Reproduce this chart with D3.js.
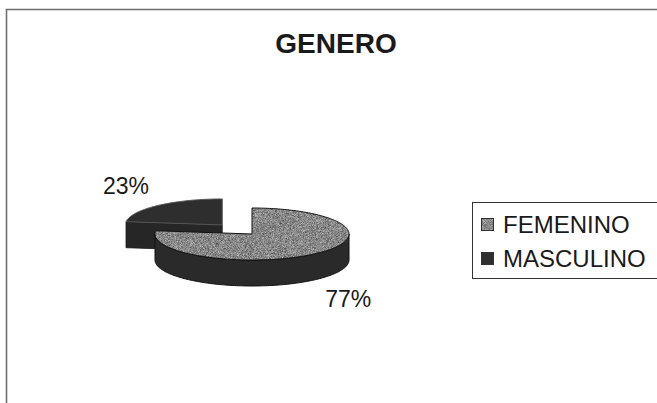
<!DOCTYPE html>
<html>
<head>
<meta charset="utf-8">
<script src="https://cdn.jsdelivr.net/npm/d3@7/dist/d3.min.js"></script>
<style>
  html, body { margin: 0; padding: 0; background: #fff; }
  svg { display: block; font-family: "Liberation Sans", Arial, sans-serif; }
</style>
</head>
<body>
<svg id="chart" width="657" height="403"></svg>
<script>
// Data
const title = "GENERO";
const categories = ["FEMENINO", "MASCULINO"];
const values = [77, 23];
const labels = ["77%", "23%"];
const exploded = [0, 45];          // pull-out distance per slice
const topColors = ["#858585", "#2e2e2e"];
const sideColors = ["#2a2a2a", "#262626"];

const W = 657, H = 403;
const svg = d3.select("#chart");

// Fine grain texture for the light slice
const defs = svg.append("defs");
const f = defs.append("filter").attr("id", "grain")
  .attr("x", 0).attr("y", 0).attr("width", 1).attr("height", 1)
  .attr("color-interpolation-filters", "sRGB");
f.append("feTurbulence").attr("type", "fractalNoise")
  .attr("baseFrequency", 1.4).attr("numOctaves", 2).attr("seed", 4).attr("result", "n");
f.append("feColorMatrix").attr("in", "n").attr("type", "matrix")
  .attr("values", "0.7 0 0 0 0.18  0.7 0 0 0 0.18  0.7 0 0 0 0.18  0 0 0 0 1").attr("result", "g");
f.append("feComposite").attr("in", "g").attr("in2", "SourceGraphic").attr("operator", "in");

// Chart area frame
svg.append("path")
  .attr("d", `M6.5,${H + 2} V9.5 H${W + 2}`)
  .attr("fill", "none").attr("stroke", "#6e6e6e").attr("stroke-width", 1.6);

// Title
svg.append("text")
  .attr("x", 336).attr("y", 53)
  .attr("text-anchor", "middle")
  .attr("font-size", 28).attr("font-weight", "bold").attr("fill", "#1a1a1a")
  .text(title);

// 3D pie geometry
const cx = 252, cy = 234, rx = 97, ry = 26, depth = 26;
const pie = d3.pie().sort(null).startAngle(0).endAngle(2 * Math.PI);
const arcs = pie(values);

// Projection of (angle, radius factor) onto the tilted ellipse
const px = d3.scaleLinear().domain([-1, 1]).range([-rx, rx]);
const py = d3.scaleLinear().domain([-1, 1]).range([ry, -ry]);
function offset(a, i) {
  const mid = (a.startAngle + a.endAngle) / 2, d = exploded[i] / rx;
  return [cx + px(Math.sin(mid) * d), cy + py(Math.cos(mid) * d)];
}
function pt(c, t, k = 1, dz = 0) {
  return [c[0] + px(Math.sin(t) * k), c[1] + py(Math.cos(t) * k) + dz];
}
function samples(a0, a1) {
  const n = Math.max(2, Math.ceil(Math.abs(a1 - a0) / 0.02));
  return d3.range(n + 1).map(j => a0 + (a1 - a0) * j / n);
}
const line = d3.line();

function drawSlice(a, i, g) {
  const c = offset(a, i);
  // radial cut faces turned toward the viewer
  [[a.startAngle, Math.sin(a.startAngle) < -1e-6],
   [a.endAngle, Math.sin(a.endAngle) > 1e-6]].forEach(([t, visible]) => {
    if (!visible) return;
    const e = pt(c, t);
    g.append("path")
      .attr("d", line([c, e, [e[0], e[1] + depth], [c[0], c[1] + depth]]) + "Z")
      .attr("fill", sideColors[i]).attr("stroke", "#1a1a1a").attr("stroke-width", 0.8);
  });
  // outer wall on the front half (angles between 90° and 270°)
  const lo = Math.max(a.startAngle, Math.PI / 2), hi = Math.min(a.endAngle, 3 * Math.PI / 2);
  if (hi > lo) {
    const ts = samples(lo, hi);
    const top = ts.map(t => pt(c, t));
    const bot = ts.slice().reverse().map(t => pt(c, t, 1, depth));
    g.append("path").attr("d", line(top.concat(bot)) + "Z")
      .attr("fill", sideColors[i]).attr("stroke", "#111").attr("stroke-width", 1);
  }
  // top face
  const ring = samples(a.startAngle, a.endAngle).map(t => pt(c, t));
  const d = line([c].concat(ring)) + "Z";
  g.append("path").attr("d", d).attr("fill", topColors[i])
    .attr("filter", i === 0 ? "url(#grain)" : null);
  g.append("path").attr("d", d).attr("fill", "none")
    .attr("stroke", i === 0 ? "#111" : "#555").attr("stroke-width", 1);
}

const pieG = svg.append("g");
// back (pulled-out) slice first, then the large slice in front
[1, 0].forEach(i => drawSlice(arcs[i], i, pieG.append("g")));

// Percentage labels placed beyond the rim along each slice's mid angle
arcs.forEach((a, i) => {
  const c = offset(a, i);
  const mid = (a.startAngle + a.endAngle) / 2;
  const front = Math.cos(mid) < 0 ? depth : 0;
  const x = c[0] + px(Math.sin(mid) * 1.5);
  const y = c[1] + py(Math.cos(mid) * 2.0) + front;
  svg.append("text")
    .attr("x", x).attr("y", y + 8)
    .attr("text-anchor", "middle")
    .attr("font-size", 23).attr("fill", "#1a1a1a")
    .text(labels[i]);
});

// Legend
const lg = svg.append("g");
lg.append("rect").attr("x", 472.5).attr("y", 202.5).attr("width", 220).attr("height", 76)
  .attr("fill", "#fff").attr("stroke", "#333").attr("stroke-width", 1);
const ly = d3.scalePoint().domain(categories).range([225, 259]);
categories.forEach((name, i) => {
  lg.append("rect").attr("x", 481).attr("y", ly(name) - 7).attr("width", 13).attr("height", 13)
    .attr("fill", i === 0 ? "#858585" : "#2e2e2e")
    .attr("filter", i === 0 ? "url(#grain)" : null);
  lg.append("rect").attr("x", 481.5).attr("y", ly(name) - 6.5).attr("width", 12).attr("height", 12)
    .attr("fill", "none").attr("stroke", "#333").attr("stroke-width", 1);
  lg.append("text").attr("x", 503).attr("y", ly(name) + 7.5)
    .attr("font-size", 24).attr("fill", "#1a1a1a").text(name);
});
</script>
</body>
</html>
